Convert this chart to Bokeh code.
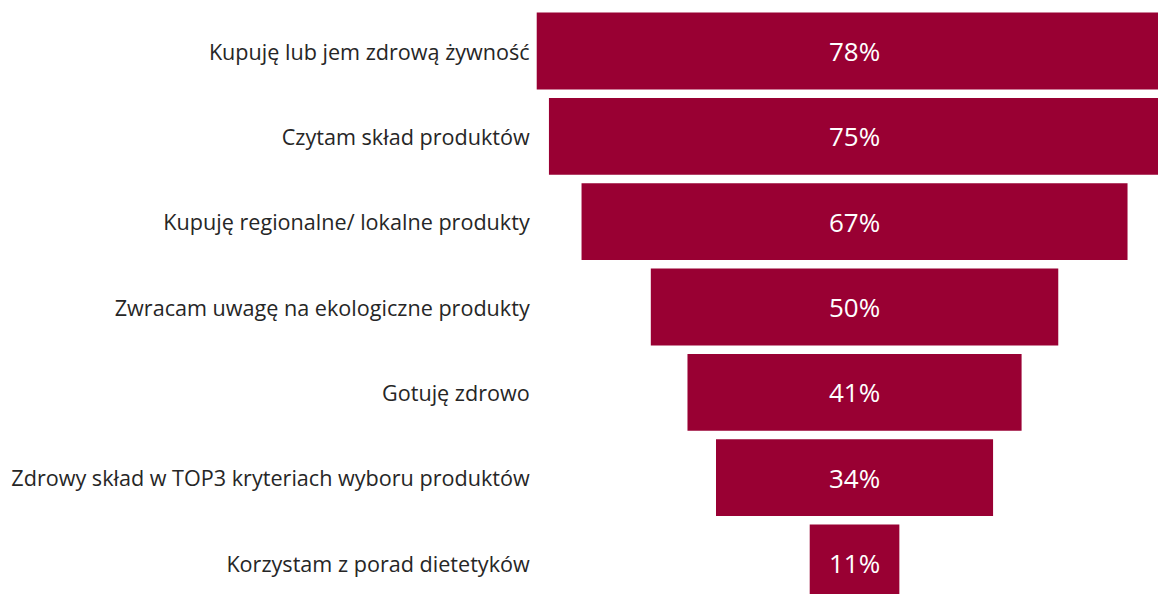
from bokeh.plotting import figure
from bokeh.models import ColumnDataSource, Range1d
from bokeh.core.properties import value
from bokeh.embed import file_html
from bokeh.resources import INLINE

categories = [
    "Kupuję lub jem zdrową żywność",
    "Czytam skład produktów",
    "Kupuję regionalne/ lokalne produkty",
    "Zwracam uwagę na ekologiczne produkty",
    "Gotuję zdrowo",
    "Zdrowy skład w TOP3 kryteriach wyboru produktów",
    "Korzystam z porad dietetyków",
]
values = [78, 75, 67, 50, 41, 34, 11]
value_labels = ["78%", "75%", "67%", "50%", "41%", "34%", "11%"]

idx = list(range(len(categories)))
src = ColumnDataSource(dict(
    y=idx,
    left=[-v / 2 for v in values],
    right=[v / 2 for v in values],
    cat=categories,
    lab=value_labels,
    cx=[0] * len(values),
    lx=[-max(values) / 2] * len(values),
))

W, H = 1158, 594
p = figure(width=W, height=H, output_backend="svg", toolbar_location=None,
           x_range=Range1d(-104.8, 37.3), y_range=Range1d(6.369, -0.592),
           min_border=0, outline_line_color=None)
p.xaxis.visible = False
p.yaxis.visible = False
p.xgrid.visible = False
p.ygrid.visible = False
p.background_fill_color = "white"
p.border_fill_color = "white"

p.hbar(y="y", left="left", right="right", height=0.9, source=src,
       fill_color="#990033", line_color=None)

p.text(x="cx", y="y", text="lab", source=src, text_align="center",
       text_baseline="middle", text_color="white", text_font=value("Open Sans"),
       text_font_size="26px")

p.text(x="lx", y="y", text="cat", source=src, text_align="right",
       text_baseline="middle", text_color="#262626", text_font=value("Open Sans"),
       text_font_size="21.6px", x_offset=-7)

open("out.html", "w").write(file_html(p, INLINE))
